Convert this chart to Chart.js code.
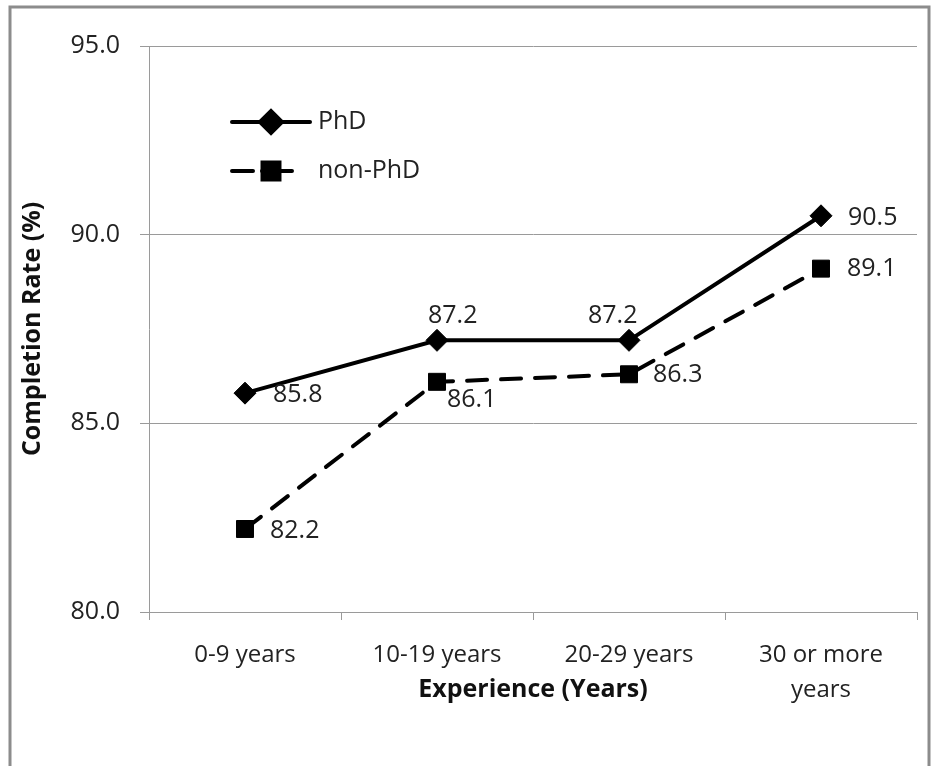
<!DOCTYPE html>
<html>
<head>
<meta charset="utf-8">
<script src="https://cdn.jsdelivr.net/npm/chart.js@4.4.1/dist/chart.umd.min.js"></script>
<style>
  body { margin: 0; background: #fff; }
  #wrap { width: 939px; height: 766px; }
</style>
</head>
<body>
<div id="wrap"><canvas id="rateChart" width="939" height="766"></canvas></div>
<script>
// Data
const categories = ['0-9 years', '10-19 years', '20-29 years', ['30 or more', 'years']];
const phdRates = [85.8, 87.2, 87.2, 90.5];
const nonPhdRates = [82.2, 86.1, 86.3, 89.1];
const yTicks = [80, 85, 90, 95];

const textFont = "'Open Sans', 'DejaVu Sans', sans-serif";
const gridGray = '#9a9a9a';

// where each value label sits relative to its point (left edge / vertical centre)
const labelOffsets = [
  [[28, 2], [-9, -24], [-41, -24], [27, 2]],
  [[25, 2], [10, 18], [24, 1], [26, 0]]
];

// outer frame of the picture
const framePlugin = {
  id: 'frame',
  beforeDraw(chart) {
    const ctx = chart.ctx;
    ctx.save();
    ctx.strokeStyle = '#8c8c8c';
    ctx.lineWidth = 3;
    ctx.strokeRect(10, 7, 919, 800);
    ctx.restore();
  }
};

// value labels next to the points
const valueLabels = {
  id: 'valueLabels',
  afterDatasetsDraw(chart) {
    const ctx = chart.ctx;
    ctx.save();
    ctx.font = '25px ' + textFont;
    ctx.fillStyle = '#222';
    ctx.textAlign = 'left';
    ctx.textBaseline = 'middle';
    chart.data.datasets.forEach((ds, i) => {
      chart.getDatasetMeta(i).data.forEach((pt, j) => {
        const off = labelOffsets[i][j];
        ctx.fillText(ds.data[j].toFixed(1), pt.x + off[0], pt.y + off[1]);
      });
    });
    ctx.restore();
  }
};

// legend drawn inside the plot, top-left
const insideLegend = {
  id: 'insideLegend',
  afterDraw(chart) {
    const ctx = chart.ctx;
    const rows = [{y: 122, dash: []}, {y: 171, dash: [21, 9, 30, 0]}];
    ctx.save();
    chart.data.datasets.forEach((ds, i) => {
      const y = rows[i].y;
      ctx.strokeStyle = '#000';
      ctx.lineWidth = 4;
      ctx.lineCap = 'round';
      ctx.setLineDash(rows[i].dash);
      ctx.beginPath();
      ctx.moveTo(232, y);
      ctx.lineTo(i === 0 ? 310 : 292, y);
      ctx.stroke();
      ctx.setLineDash([]);
      ctx.fillStyle = '#000';
      Chart.helpers.drawPoint(ctx, {
        pointStyle: ds.pointStyle, radius: ds.pointRadius, rotation: 0, borderWidth: 1
      }, 271, y);
      ctx.font = '25px ' + textFont;
      ctx.fillStyle = '#222';
      ctx.textAlign = 'left';
      ctx.textBaseline = 'middle';
      ctx.fillText(ds.label, 318, y);
    });
    ctx.restore();
  }
};

new Chart(document.getElementById('rateChart'), {
  type: 'line',
  data: {
    labels: categories,
    datasets: [{
      label: 'PhD',
      data: phdRates,
      borderColor: '#000',
      backgroundColor: '#000',
      borderWidth: 4,
      pointStyle: 'rectRot',
      pointRadius: 11,
      pointBorderWidth: 1,
      tension: 0
    }, {
      label: 'non-PhD',
      data: nonPhdRates,
      borderColor: '#000',
      backgroundColor: '#000',
      borderWidth: 4,
      borderDash: [20, 14],
      borderCapStyle: 'round',
      pointStyle: 'rect',
      pointRadius: 12,
      pointBorderWidth: 1,
      tension: 0
    }]
  },
  options: {
    responsive: false,
    animation: false,
    layout: { padding: { left: 0, top: 46, right: 22, bottom: 0 } },
    plugins: {
      legend: { display: false },
      tooltip: { enabled: false }
    },
    scales: {
      x: {
        offset: true,
        afterFit(scale) { scale.height = 154; },
        grid: {
          offset: true,
          drawOnChartArea: false,
          drawTicks: true,
          tickLength: 8,
          color: gridGray
        },
        border: { display: true, color: gridGray, width: 1 },
        ticks: {
          padding: 18,
          color: '#222',
          maxRotation: 0,
          font: { family: textFont, size: 24, lineHeight: 1.45 }
        },
        title: {
          display: true,
          text: 'Experience (Years)',
          color: '#111',
          padding: { top: 0, bottom: 61 },
          font: { family: textFont, size: 25, weight: 'bold' }
        }
      },
      y: {
        min: 80,
        max: 95,
        afterFit(scale) { scale.width = 149; },
        afterBuildTicks(scale) { scale.ticks = yTicks.map(v => ({ value: v })); },
        grid: { color: gridGray, tickLength: 9, lineWidth: 1 },
        border: { display: true, color: gridGray, width: 1 },
        ticks: {
          padding: 20,
          color: '#222',
          font: { family: textFont, size: 25 },
          callback: v => v.toFixed(1)
        },
        title: {
          display: true,
          text: 'Completion Rate (%)',
          color: '#111',
          padding: { top: 18, bottom: 0 },
          font: { family: textFont, size: 25, weight: 'bold' }
        }
      }
    }
  },
  plugins: [framePlugin, valueLabels, insideLegend]
});
</script>
</body>
</html>
